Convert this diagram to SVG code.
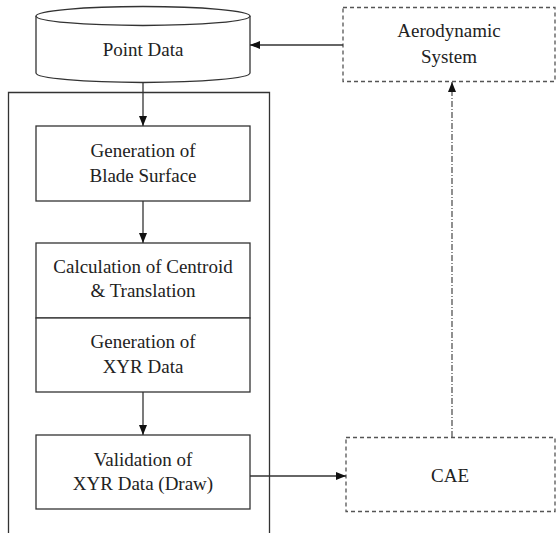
<svg xmlns="http://www.w3.org/2000/svg" width="558" height="533" viewBox="0 0 558 533">
<style>
text{font-family:"Liberation Serif","Times New Roman",serif;font-size:19px;fill:#222;text-anchor:middle}
.box{fill:#fff;stroke:#333;stroke-width:1.3}
.dbox{fill:#fff;stroke:#555;stroke-width:1.3;stroke-dasharray:4,3}
.ln{fill:none;stroke:#333;stroke-width:1.3}
.dd{fill:none;stroke:#555;stroke-width:1.3;stroke-dasharray:6,2,1,2}
</style>
<defs>
<marker id="ah" viewBox="0 0 10 10" refX="10" refY="5" markerWidth="10" markerHeight="10" markerUnits="userSpaceOnUse" orient="auto">
<path d="M0,1 L10,5 L0,9 Z" fill="#111"/>
</marker>
</defs>
<g id="container"><path class="ln" d="M8.5,540 V92.5 H269.5 V540"/></g>
<g id="point-data">
<path class="box" d="M36,16 V73 A107,9.5 0 0 0 250,73 V16"/>
<ellipse class="box" cx="143" cy="16" rx="107" ry="9.5"/>
<text x="143" y="56">Point Data</text>
</g>
<g id="blade-surface">
<rect class="box" x="36" y="126" width="214" height="75"/>
<text x="143" y="157">Generation of</text>
<text x="143" y="182">Blade Surface</text>
</g>
<g id="centroid">
<rect class="box" x="36" y="243" width="214" height="75"/>
<text x="143" y="273">Calculation of Centroid</text>
<text x="143" y="297">&amp; Translation</text>
</g>
<g id="xyr-data">
<rect class="box" x="36" y="318" width="214" height="74"/>
<text x="143" y="348">Generation of</text>
<text x="143" y="373">XYR Data</text>
</g>
<g id="validation">
<rect class="box" x="36" y="435" width="214" height="74"/>
<text x="143" y="466">Validation of</text>
<text x="143" y="490">XYR Data (Draw)</text>
</g>
<g id="aerodynamic">
<rect class="dbox" x="343" y="7.5" width="212" height="74"/>
<text x="449" y="37">Aerodynamic</text>
<text x="449" y="63">System</text>
</g>
<g id="cae">
<rect class="dbox" x="346" y="437.5" width="209" height="74"/>
<text x="450" y="482">CAE</text>
</g>
<g id="connectors">
<line class="ln" x1="143" y1="82.5" x2="143" y2="126" marker-end="url(#ah)"/>
<line class="ln" x1="143" y1="201" x2="143" y2="243" marker-end="url(#ah)"/>
<line class="ln" x1="143" y1="392" x2="143" y2="435" marker-end="url(#ah)"/>
<line class="ln" x1="343" y1="45" x2="250" y2="45" marker-end="url(#ah)"/>
<line class="ln" x1="250" y1="476" x2="346" y2="476" marker-end="url(#ah)"/>
<line class="dd" x1="452" y1="437" x2="452" y2="82" marker-end="url(#ah)"/>
</g>
</svg>
